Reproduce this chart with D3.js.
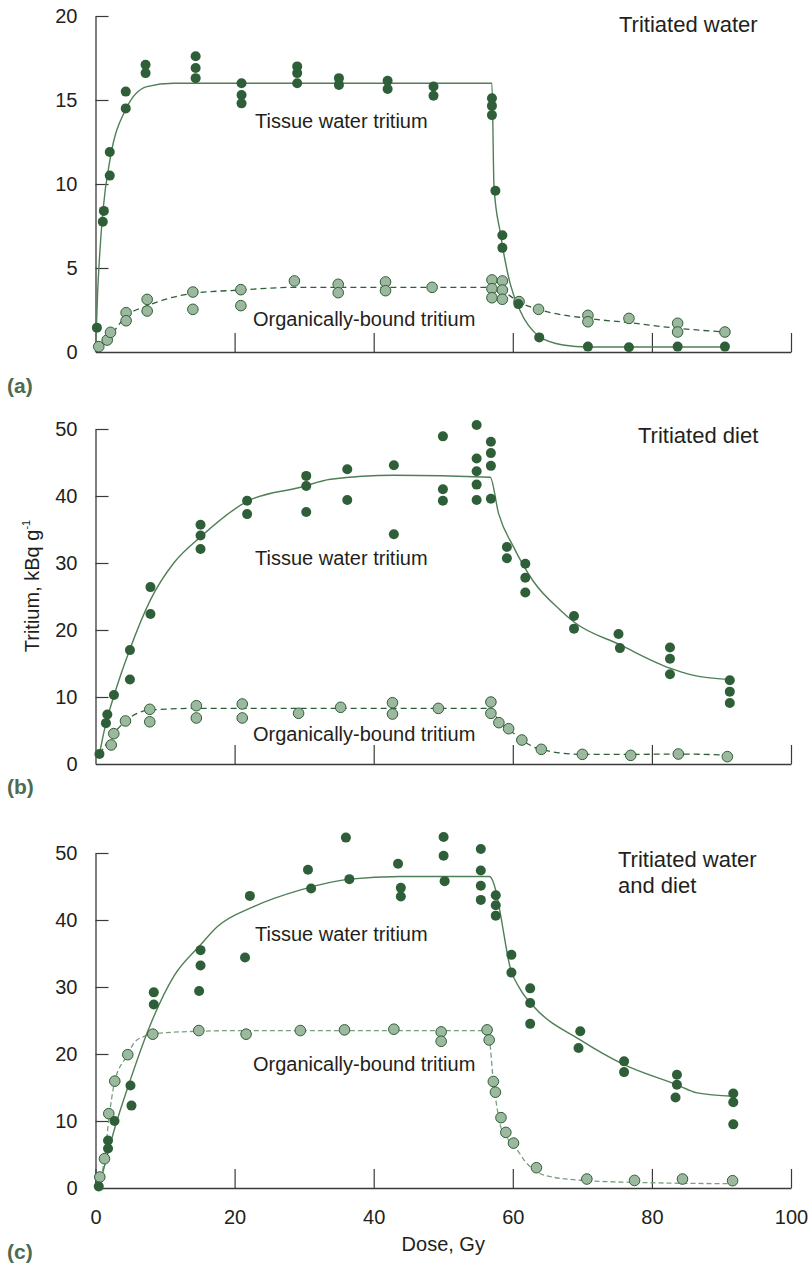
<!DOCTYPE html>
<html>
<head>
<meta charset="utf-8">
<script src="https://cdn.jsdelivr.net/npm/d3@7"></script>
<style>
  body { margin: 0; background: #fff; }
  text { font-family: "Liberation Sans", Arial, sans-serif; fill: #231f20; }
</style>
</head>
<body>
<div id="chart"></div>
<script>
// values: [dose (Gy), tritium (kBq/g)]
const doseTicks = [0, 20, 40, 60, 80, 100];

const waterTissue = [[0.2,1.45],[1.05,7.75],[1.2,8.4],[2.05,10.5],[2.05,11.9],[4.35,14.5],[4.35,15.5],[7.2,16.6],[7.2,17.1],[14.4,16.3],[14.4,16.9],[14.4,17.6],[21.0,16.0],[21.0,15.3],[21.0,14.8],[29.0,16.0],[29.0,16.6],[29.0,17.0],[35.0,16.3],[35.0,15.9],[42.0,16.15],[42.0,15.65],[48.6,15.8],[48.6,15.25],[57.0,15.1],[57.0,14.65],[57.0,14.1],[57.5,9.6],[58.5,6.95],[58.5,6.2],[60.8,2.85],[63.8,0.87],[70.8,0.32],[76.7,0.28],[83.7,0.32],[90.5,0.32]];
const waterTissueFit = [[0,0],[0.3,3.5],[0.5,5.1],[1.05,8.3],[2.15,11.6],[4.3,14.4],[7.4,15.8],[11.2,16.0],[57.0,16.0],[57.3,9.8],[58.2,7.1],[59.6,4.1],[61.0,2.5],[63.9,0.9],[67.2,0.42],[70.8,0.3],[90.5,0.3]];
const waterOrganic = [[0.47,0.32],[1.68,0.71],[2.16,1.17],[4.4,2.34],[4.4,1.86],[7.43,3.13],[7.43,2.44],[14.0,3.57],[14.0,2.54],[20.9,3.71],[20.9,2.76],[28.6,4.23],[34.9,4.03],[34.9,3.53],[41.7,4.17],[41.7,3.65],[48.4,3.85],[57.0,4.29],[57.0,3.77],[57.0,3.23],[58.5,4.23],[58.5,3.69],[58.5,3.14],[60.9,3.0],[63.7,2.54],[70.8,2.18],[70.8,1.8],[76.7,2.0],[83.7,1.71],[83.7,1.19],[90.5,1.19]];
const waterOrganicFit = [[0.5,0.3],[2.4,1.1],[4.3,2.1],[7.4,2.74],[14.0,3.49],[20.9,3.69],[28.6,3.85],[57.0,3.85],[60.1,3.2],[60.8,3.0],[63.7,2.54],[70.8,2.0],[76.7,1.75],[83.7,1.41],[90.5,1.19]];

const dietTissue = [[0.57,1.5],[1.5,6.1],[1.7,7.4],[2.65,10.3],[4.95,17.0],[4.95,12.6],[7.9,26.4],[7.9,22.4],[15.1,35.7],[15.1,34.1],[15.1,32.1],[21.8,39.3],[21.8,37.3],[30.3,43.0],[30.3,41.5],[30.3,37.6],[36.2,44.0],[36.2,39.4],[42.9,44.6],[42.9,34.3],[49.95,48.9],[49.95,41.0],[49.95,39.3],[54.8,50.6],[54.8,45.6],[54.8,43.7],[54.8,41.7],[54.8,39.4],[56.85,48.1],[56.85,46.4],[56.85,44.5],[56.85,39.6],[59.15,32.4],[59.15,30.7],[61.8,29.9],[61.8,27.8],[61.8,25.6],[68.8,22.1],[68.8,20.2],[75.2,19.4],[75.4,17.3],[82.6,17.4],[82.6,15.7],[82.6,13.4],[91.2,12.5],[91.2,10.8],[91.2,9.1]];
const dietTissueFit = [[0.57,1.5],[1.5,6.1],[2.6,10],[4.9,17],[7.9,24.5],[11.25,30],[15.1,33.9],[21.8,39.2],[29.5,41.3],[33.8,42.5],[42.9,43.1],[56.75,42.8],[57.95,37.4],[60.1,32.4],[63,27.2],[66.8,23.0],[68.8,21.2],[75.4,17.8],[82.6,14.3],[85.7,13.3],[91.2,12.6]];
const dietOrganic = [[2.26,2.84],[2.63,4.53],[4.31,6.42],[7.8,8.16],[7.8,6.3],[14.5,8.7],[14.5,6.87],[21.1,8.96],[21.1,6.87],[29.2,7.57],[35.25,8.46],[42.7,9.15],[42.7,7.46],[49.3,8.3],[56.85,9.25],[56.85,7.56],[58.0,6.17],[59.4,5.27],[61.3,3.58],[64.1,2.19],[70.0,1.44],[76.95,1.29],[83.8,1.49],[90.85,1.1]];
const dietOrganicFit = [[0.6,1.5],[2.6,4.5],[4.3,6.4],[7.8,8.06],[14.5,8.3],[56.85,8.3],[58.0,6.3],[59.4,5.2],[61.3,3.6],[63.9,2.2],[70.0,1.44],[76.95,1.44],[83.8,1.49],[90.85,1.34]];

const bothTissue = [[0.47,0.24],[1.8,7.1],[1.8,5.9],[2.73,10.0],[5.03,15.3],[5.17,12.3],[8.38,29.2],[8.38,27.4],[15.1,35.5],[15.1,33.2],[14.9,29.4],[21.5,34.4],[22.2,43.6],[30.55,47.5],[31.0,44.7],[36.0,52.3],[36.5,46.1],[43.5,48.4],[43.9,44.8],[43.9,43.5],[50.05,52.4],[50.05,49.6],[50.2,45.8],[55.4,50.6],[55.4,47.4],[55.4,45.1],[55.4,43.0],[57.55,43.7],[57.55,42.2],[57.55,40.65],[59.8,34.8],[59.8,32.15],[62.5,29.8],[62.5,27.6],[62.5,24.5],[69.7,23.4],[69.45,20.9],[76.0,18.9],[76.0,17.3],[83.6,16.9],[83.6,15.4],[83.4,13.5],[91.7,14.1],[91.7,12.8],[91.7,9.5]];
const bothTissueFit = [[0.57,0.24],[1.77,5.2],[2.7,8.7],[5.0,16.1],[7.4,23.1],[11.25,31.6],[15.1,36.3],[17.5,39.0],[22.75,42.0],[29.5,44.5],[36.5,46.1],[43.8,46.5],[56.65,46.5],[57.6,44.2],[58.2,41.0],[59.6,33.0],[61.1,29.6],[63.0,27.1],[69.7,22.1],[76.0,18.4],[83.6,15.4],[86.5,14.2],[91.7,13.7]];
const bothOrganic = [[0.62,1.64],[1.29,4.37],[1.91,11.1],[2.77,15.95],[4.64,19.9],[8.24,22.96],[14.85,23.5],[21.65,22.96],[29.45,23.5],[35.8,23.6],[42.9,23.7],[49.7,23.3],[49.7,21.9],[56.3,23.6],[56.6,22.1],[57.2,15.9],[57.5,14.3],[58.3,10.5],[59.0,8.3],[60.1,6.7],[63.4,3.03],[70.65,1.34],[77.5,1.13],[84.4,1.34],[91.6,1.09]];
const bothOrganicFit = [[0.5,0.24],[1.29,4.4],[1.91,10.2],[2.77,15.95],[4.64,19.9],[5.5,21.6],[6.9,22.6],[8.24,23.0],[14.85,23.4],[21.6,23.5],[56.3,23.5],[56.65,22.1],[57.2,15.9],[57.7,12.2],[58.4,8.7],[60.1,6.5],[62.0,3.7],[64.9,1.8],[70.65,1.1],[77.5,0.84],[91.6,0.64]];

const svgWidth = 808, svgHeight = 1266;
const darkGreen = '#2f5f38', lineGreen = '#4f7f57', lightFill = '#9cb89f', lightLine = '#78a07e';

const svg = d3.select('#chart').append('svg')
  .attr('width', svgWidth)
  .attr('height', svgHeight);

const x = d3.scaleLinear().domain([0, 100]).range([95.5, 791]);

const panels = [
  { letter: '(a)', letterY: 393, yMax: 20, yTicks: [0, 5, 10, 15, 20], top: 16, bottom: 352,
    title: ['Tritiated water'], titleX: 619, titleY: 32,
    tissue: waterTissue, tissueFit: waterTissueFit, organic: waterOrganic, organicFit: waterOrganicFit,
    tissueY: 128, organicY: 326, dashColor: darkGreen, xLabels: false },
  { letter: '(b)', letterY: 794, yMax: 50, yTicks: [0, 10, 20, 30, 40, 50], top: 429, bottom: 764,
    title: ['Tritiated diet'], titleX: 638, titleY: 443,
    tissue: dietTissue, tissueFit: dietTissueFit, organic: dietOrganic, organicFit: dietOrganicFit,
    tissueY: 565, organicY: 741, dashColor: darkGreen, xLabels: false },
  { letter: '(c)', letterY: 1259, yMax: 50, yTicks: [0, 10, 20, 30, 40, 50], top: 853, bottom: 1188,
    title: ['Tritiated water', 'and diet'], titleX: 618, titleY: 867,
    tissue: bothTissue, tissueFit: bothTissueFit, organic: bothOrganic, organicFit: bothOrganicFit,
    tissueY: 941, organicY: 1071, dashColor: lightLine, xLabels: true }
];

panels.forEach(p => {
  const y = d3.scaleLinear().domain([0, p.yMax]).range([p.bottom, p.top]);
  const g = svg.append('g');

  // y axis, ticks pointing inward
  const yAxis = g.append('g')
    .attr('transform', `translate(${x(0)},0)`)
    .call(d3.axisLeft(y).tickValues(p.yTicks).tickSizeInner(-13).tickSizeOuter(0).tickPadding(18));

  // x axis, ticks pointing up
  const xAxis = g.append('g')
    .attr('transform', `translate(0,${p.bottom})`)
    .call(d3.axisBottom(x)
      .tickValues(p.xLabels ? doseTicks : doseTicks.slice(1))
      .tickSizeInner(-19).tickSizeOuter(0).tickPadding(22)
      .tickFormat(p.xLabels ? d3.format('d') : ''));

  [yAxis, xAxis].forEach(ax => {
    ax.select('.domain').attr('stroke', '#3a3a3a').attr('stroke-width', 1.3);
    ax.selectAll('.tick line').attr('stroke', '#3a3a3a').attr('stroke-width', 1.2);
    ax.selectAll('.tick text').attr('font-size', 20).attr('fill', '#231f20')
      .attr('font-family', '"Liberation Sans", Arial, sans-serif');
  });
  yAxis.selectAll('.tick').filter(d => d === 0).select('line').remove();

  const line = d3.line()
    .x(d => x(d[0]))
    .y(d => y(d[1]))
    .curve(d3.curveMonotoneX);

  g.append('path')
    .datum(p.organicFit)
    .attr('d', line)
    .attr('fill', 'none')
    .attr('stroke', p.dashColor)
    .attr('stroke-width', 1.3)
    .attr('stroke-dasharray', p.xLabels ? '5,3' : '6,4');

  g.append('path')
    .datum(p.tissueFit)
    .attr('d', line)
    .attr('fill', 'none')
    .attr('stroke', lineGreen)
    .attr('stroke-width', 1.4);

  g.selectAll('.organic')
    .data(p.organic)
    .enter()
    .append('circle')
    .attr('cx', d => x(d[0]))
    .attr('cy', d => y(d[1]))
    .attr('r', 5.3)
    .attr('fill', lightFill)
    .attr('stroke', darkGreen)
    .attr('stroke-width', 1);

  g.selectAll('.tissue')
    .data(p.tissue)
    .enter()
    .append('circle')
    .attr('cx', d => x(d[0]))
    .attr('cy', d => y(d[1]))
    .attr('r', 5)
    .attr('fill', darkGreen);

  g.append('text')
    .attr('x', 255).attr('y', p.tissueY)
    .attr('font-size', 20)
    .text('Tissue water tritium');

  g.append('text')
    .attr('x', 253).attr('y', p.organicY)
    .attr('font-size', 20)
    .text('Organically-bound tritium');

  p.title.forEach((t, i) => {
    g.append('text')
      .attr('x', p.titleX)
      .attr('y', p.titleY + i * 26)
      .attr('font-size', 22)
      .text(t);
  });

  g.append('text')
    .attr('x', 7).attr('y', p.letterY)
    .attr('font-family', '"Open Sans", sans-serif')
    .attr('font-weight', 'bold')
    .attr('font-size', 21)
    .style('fill', '#4d6b50')
    .text(p.letter);
});

// shared axis titles
const yTitle = svg.append('text')
  .attr('transform', 'translate(39,586) rotate(-90)')
  .attr('text-anchor', 'middle')
  .attr('font-size', 20);
yTitle.append('tspan').text('Tritium, kBq g');
yTitle.append('tspan').attr('font-size', 11).attr('dy', -9).text('-1');

svg.append('text')
  .attr('x', (x(0) + x(100)) / 2)
  .attr('y', 1251)
  .attr('text-anchor', 'middle')
  .attr('font-size', 20)
  .text('Dose, Gy');
</script>
</body>
</html>
